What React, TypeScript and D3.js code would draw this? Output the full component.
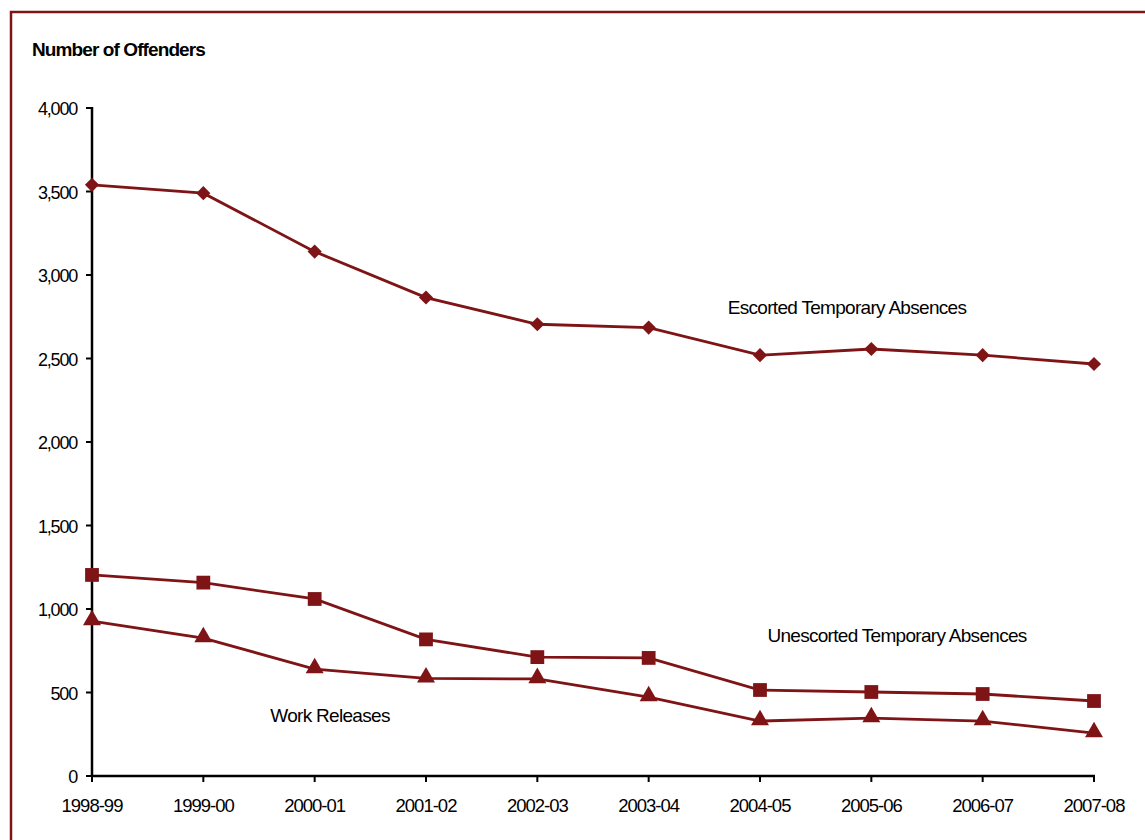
import React from "react";
import * as d3 from "d3";

const years = ["1998-99","1999-00","2000-01","2001-02","2002-03","2003-04","2004-05","2005-06","2006-07","2007-08"];
const escorted = [3540, 3490, 3140, 2865, 2705, 2685, 2520, 2557, 2520, 2467];
const unescorted = [1204, 1158, 1060, 818, 712, 707, 515, 503, 491, 449];
const workReleases = [928, 826, 640, 585, 581, 473, 329, 347, 329, 257];
const yTicks = [0, 500, 1000, 1500, 2000, 2500, 3000, 3500, 4000];

const COLOR = "#7f1416";
const FONT = "'Liberation Sans', Arial, sans-serif";

export default function App() {
  const x = d3.scalePoint<string>().domain(years).range([92, 1094]);
  const y = d3.scaleLinear().domain([0, 4000]).range([776, 108]);
  const line = d3.line<number>().x((_, i) => x(years[i])!).y((d) => y(d));
  const fmt = d3.format(",");

  const diamond = d3.symbol().type(d3.symbolSquare).size(100)()!;
  const square = d3.symbol().type(d3.symbolSquare).size(190)()!;
  const triangle = d3.symbol().type(d3.symbolTriangle).size(140)()!;

  const series = [
    { data: escorted, path: diamond, dy: 0, rot: 45 },
    { data: unescorted, path: square, dy: 0, rot: 0 },
    { data: workReleases, path: triangle, dy: -1, rot: 0 },
  ];

  return (
    <svg width={1145} height={840} style={{ position: "absolute", left: 0, top: 0 }} fontFamily={FONT}>
      <rect x={0} y={0} width={1145} height={840} fill="#fff" />
      <path d="M11,840 V12 H1145" fill="none" stroke={COLOR} strokeWidth={2.5} />
      <text x={32} y={56} fontSize={19} fontWeight="bold" letterSpacing={-0.9}>Number of Offenders</text>

      {/* y axis */}
      <line x1={92} x2={92} y1={107} y2={777} stroke="#000" strokeWidth={2.5} />
      {yTicks.map((t) => (
        <g key={t}>
          <line x1={86} x2={92} y1={y(t)} y2={y(t)} stroke="#000" strokeWidth={2} />
          <text x={77} y={y(t) + 7} textAnchor="end" fontSize={18} letterSpacing={-1.2}>{fmt(t)}</text>
        </g>
      ))}
      {/* x axis */}
      <line x1={91} x2={1095} y1={776} y2={776} stroke="#000" strokeWidth={2.5} />
      {years.map((yr) => (
        <g key={yr}>
          <line x1={x(yr)} x2={x(yr)} y1={776} y2={782} stroke="#000" strokeWidth={2} />
          <text x={x(yr)} y={812} textAnchor="middle" fontSize={18.5} letterSpacing={-1}>{yr}</text>
        </g>
      ))}

      {series.map((s, si) => (
        <g key={si}>
          <path d={line(s.data)!} fill="none" stroke={COLOR} strokeWidth={2.8} />
          {s.data.map((v, i) => (
            <path key={i} d={s.path} transform={`translate(${x(years[i])},${y(v) + s.dy}) rotate(${s.rot})`} fill={COLOR} />
          ))}
        </g>
      ))}

      <text x={847} y={314} textAnchor="middle" fontSize={19} letterSpacing={-0.7}>Escorted Temporary Absences</text>
      <text x={897} y={642} textAnchor="middle" fontSize={19} letterSpacing={-0.7}>Unescorted Temporary Absences</text>
      <text x={330} y={722} textAnchor="middle" fontSize={19} letterSpacing={-0.7}>Work Releases</text>
    </svg>
  );
}
